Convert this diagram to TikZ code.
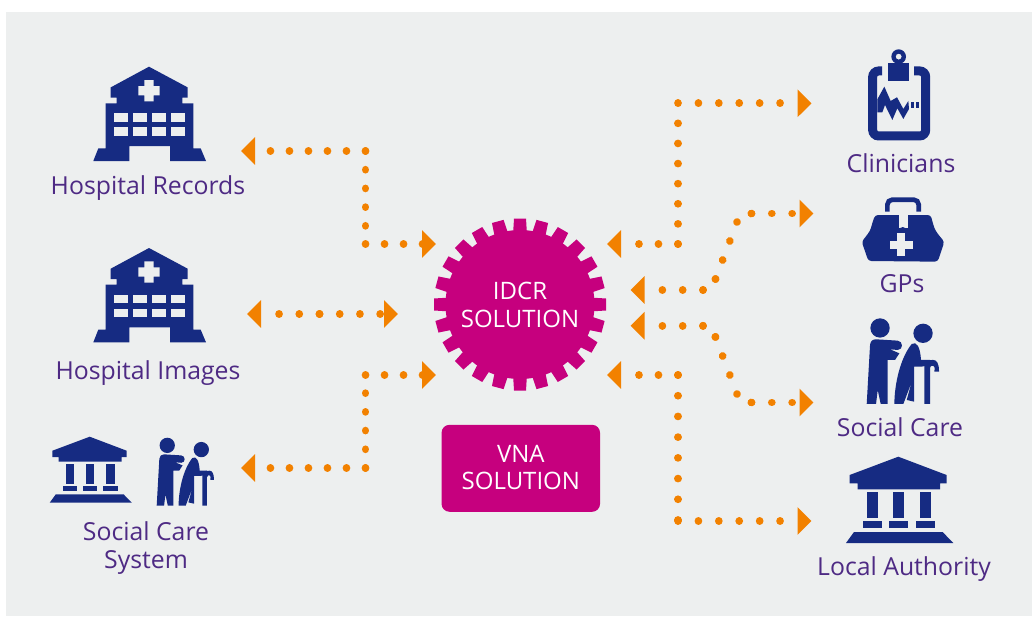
\documentclass[tikz,border=0pt]{standalone}
\usepackage{fontspec}
\setmainfont{Open Sans}
\usetikzlibrary{arrows.meta}
\definecolor{panel}{HTML}{EDEFEF}
\definecolor{orng}{HTML}{F28100}
\definecolor{magn}{HTML}{C6007E}
\definecolor{navy}{HTML}{162B82}
\definecolor{purp}{HTML}{4E2A84}
\tikzset{
  dotline/.style={draw=orng,line width=7.7pt,line cap=round,dash pattern=on 0.01pt off #1pt},
  dothead/.style={dotline=#1,-{Triangle[length=14pt,width=27pt,sep=-7pt,fill=orng]}},
  lab/.style={text=purp,font=\fontsize{24.8}{27.5}\selectfont,inner sep=0pt,align=center},
  whitetxt/.style={text=white,font=\fontsize{24}{27.5}\selectfont,inner sep=0pt,align=center},
  icon/.style={fill=navy,draw=none},
  hole/.style={fill=panel,draw=none},
  hospital/.pic={
    \fill[icon] (0,0)--(38.7,20.7)--(38.7,31)--(33.3,31)--(33.3,36.7)--(44.3,36.7)--(44.3,81.7)--(51.7,81.7)--(57,94.3)--(21,94.3)--(21,79.3)--(-19.7,79.3)--(-19.7,94.3)--(-55.7,94.3)--(-50.7,81.7)--(-43.3,81.7)--(-43.3,36.7)--(-32.3,36.7)--(-32.3,31)--(-38.3,31)--(-38.3,20.7)--cycle;
    \fill[hole] (-4.7,13.3)--(4.7,13.3)--(4.7,19.3)--(10.7,19.3)--(10.7,28.7)--(4.7,28.7)--(4.7,34.7)--(-4.7,34.7)--(-4.7,28.7)--(-10.7,28.7)--(-10.7,19.3)--(-4.7,19.3)--cycle;
    \foreach \xa/\xb in {-35/-21,-15.7/-1.7,3.3/17.3,22.3/36.3}{
      \fill[hole] (\xa,46.7) rectangle (\xb,55);
      \fill[hole] (\xa,60.7) rectangle (\xb,69.3);
    }
  },
  bank/.pic={
    \fill[icon] (0,0)--(48.3,18.3)--(48.3,26.7)--(41.7,26.7)--(41.7,32.7)--(-40.7,32.7)--(-40.7,26.7)--(-48.7,26.7)--(-48.7,18.3)--cycle;
    \foreach \xa/\xb in {-31.3/-20.3,-5.3/5.7,21.7/32.7}{\fill[icon] (\xa,35.3) rectangle (\xb,61.3);}
    \foreach \xa/\xb in {-35.3/-16.3,-9.3/9.7,17.7/36.7}{\fill[icon] (\xa,64.3) rectangle (\xb,71.3);}
    \fill[icon] (-44.3,75.3)--(44.3,75.3)--(55,86.3)--(-52.3,86.3)--cycle;
  },
  people/.pic={
    \fill[icon] (40,29) circle (29);
    \fill[icon] (169,45) circle (29);
    \fill[icon] (0,257)--(10,80) .. controls (11,68) and (18,63) .. (28,63)--(93,67) .. controls (110,68) and (110,95) .. (93,95)--(70,93)--(98,105)--(85,125)--(63,125)--(63,257)--(42,257)--(33,215)--(28,257)--cycle;
    \fill[icon] (83,257) .. controls (83,200) and (100,120) .. (135,77) .. controls (150,68) and (160,85) .. (163,125)--(190,125)--(190,140)--(165,145)--(142,145)--(142,250)--(120,245)--(135,190)--(110,257)--cycle;
    \fill[icon] (173,257)--(173,135) .. controls (175,125) and (190,125) .. (200,125) .. controls (210,125) and (217,135) .. (217,160)--(203,160)--(204,148) .. controls (200,138) and (190,142) .. (190,150)--(190,257)--cycle;
  },
  clipboard/.pic={
    \draw[navy,line width=9pt,rounded corners=6pt,line cap=butt] (42,53)--(14,53)--(14,248)--(173,248)--(173,53)--(138,53);
    \fill[icon] (61,28) rectangle (123,82);
    \fill[icon,even odd rule] (92,10) circle (22) (92,10) circle (9);
    \fill[icon] (28,138)--(49,100)--(68,143)--(87,132)--(106,167)--(121,143)--(123,167)--(106,197)--(88,165)--(73,200)--(51,155)--(43,177)--(28,177)--cycle;
    \fill[icon] (129,145) rectangle (138,163);
    \fill[icon] (144,145) rectangle (153,163);
  },
  medbag/.pic={
    \draw[navy,line width=4.7pt,rounded corners=5pt,line cap=butt] (77,65)--(77,29)--(171,29)--(171,65);
    \fill[icon,rounded corners=3pt] (40,75)--(30,105) .. controls (25,125) and (12,140) .. (0,155)--(20,213)--(228,215)--(248,155) .. controls (235,140) and (222,125) .. (215,105)--(207,75)--cycle;
    \fill[hole] (113,70) rectangle (138,113);
    \fill[icon] (123,127) circle (16);
    \fill[hole] (107,130) rectangle (131,198);
    \fill[hole] (84,152) rectangle (153,176);
  }
}
\begin{document}
\begin{tikzpicture}[x=1pt,y=-1pt]
\useasboundingbox (0,0) rectangle (1032,616);
\fill[white] (0,0) rectangle (1032,616);
\fill[panel] (6,12) rectangle (1032,616);

% gear
\foreach \a in {0,15,...,345}{
  \fill[magn,rotate around={\a:(520,304.5)}] (514,218.5)--(526,218.5)--(527,235)--(513,235)--cycle;
}
\fill[magn] (520,304.5) circle (74.5);
\node[whitetxt] (idcr) at (520,305) {IDCR\\SOLUTION};
\node[fill=magn,draw=none,rounded corners=8pt,minimum width=158.5pt,minimum height=87pt,inner sep=0pt] (vnabox) at (520.8,468.3) {};
\node[whitetxt] (vna) at (520.8,467.5) {VNA\\SOLUTION};

% icons
\pic at (149,66.7) {hospital};
\pic at (149,248) {hospital};
\pic[scale=.765] at (89.7,436.7) {bank};
\pic[scale=.264] at (156.7,437.7) {people};
\pic at (898.3,456.7) {bank};
\pic[scale=1/3] at (866.7,318.3) {people};
\pic[scale=1/3] at (868,53.3) {clipboard};
\pic[scale=1/3] at (861.7,190) {medbag};

% labels
\node[lab,anchor=base] (hr) at (148,194.8) {Hospital Records};
\node[lab,anchor=base] (hi) at (148,379.5) {Hospital Images};
\node[lab] (sc) at (146,548) {Social Care\\System};
\node[lab,anchor=base] (cl) at (901,172.5) {Clinicians};
\node[lab,anchor=base] (gp) at (902,292.8) {GPs};
\node[lab,anchor=base] (so) at (900,436.5) {Social Care};
\node[lab,anchor=base] (la) at (904,575.8) {Local Authority};

% connector points (tip coordinates sit 7 short of the visual tip)
\coordinate (a0) at (365.5,151);
\coordinate (a1) at (248,151);
\coordinate (a2) at (365.5,244);
\coordinate (a3) at (429,244);
\coordinate (m0) at (319.5,314);
\coordinate (m1) at (254,314);
\coordinate (m2) at (391,314);
\coordinate (b0) at (365.5,468);
\coordinate (b1) at (248,468);
\coordinate (b2) at (365.5,375);
\coordinate (b3) at (429,375);
\coordinate (c0) at (678,244);
\coordinate (c1) at (614,244);
\coordinate (c2) at (678,103.3);
\coordinate (c3) at (804.5,103.3);
\coordinate (d0) at (703,290);
\coordinate (d1) at (637.5,290);
\coordinate (d2) at (715.5,279);
\coordinate (d3) at (737,222);
\coordinate (d4) at (751.5,213.5);
\coordinate (d5) at (806.5,213.5);
\coordinate (e0) at (703,325.7);
\coordinate (e1) at (637.5,325.7);
\coordinate (e2) at (715.5,337);
\coordinate (e3) at (737,394);
\coordinate (e4) at (751.5,402.5);
\coordinate (e5) at (806.5,402.5);
\coordinate (f0) at (678,375);
\coordinate (f1) at (614,375);
\coordinate (f2) at (678,521);
\coordinate (f3) at (804.5,521);

% connectors
\draw[dothead=19] (a0)--(a1);
\draw[dotline=18.7] (a0)--(a2);
\draw[dothead=19] (a2)--(a3);
\draw[dothead=20.2] (m0)--(m1);
\draw[dothead=20.2] (m0)--(m2);
\draw[dothead=19] (b0)--(b1);
\draw[dotline=18.7] (b0)--(b2);
\draw[dothead=19] (b2)--(b3);
\draw[dothead=19.5] (c0)--(c1);
\draw[dotline=20.1] (c0)--(c2);
\draw[dothead=20.4] (c2)--(c3);
\draw[dothead=20.3] (d0)--(d1);
\draw[dotline=16.6] (d0)--(d2);
\draw[dotline=20.3] (d2)--(d3);
\draw[dotline=16.7] (d3)--(d4);
\draw[dothead=20.3] (d4)--(d5);
\draw[dothead=20.3] (e0)--(e1);
\draw[dotline=16.6] (e0)--(e2);
\draw[dotline=20.3] (e2)--(e3);
\draw[dotline=16.7] (e3)--(e4);
\draw[dothead=20.3] (e4)--(e5);
\draw[dothead=19.5] (f0)--(f1);
\draw[dotline=20.7] (f0)--(f2);
\draw[dothead=20.4] (f2)--(f3);
\end{tikzpicture}
\end{document}
